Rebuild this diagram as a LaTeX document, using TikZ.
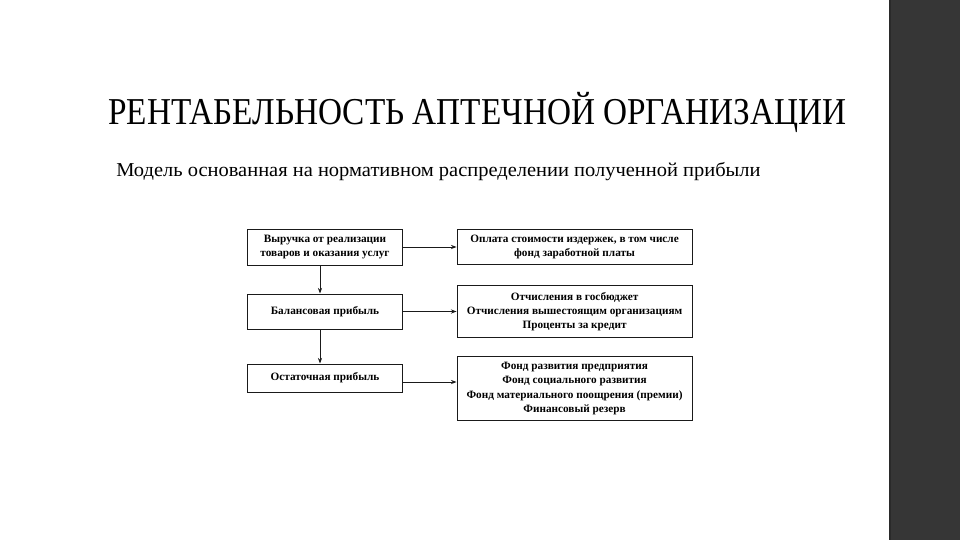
\documentclass[tikz,border=0pt]{standalone}
\usepackage{fontspec}
\setmainfont{Liberation Serif}
\usepackage{xcolor}
\usepackage{tikz}
\usetikzlibrary{arrows.meta,positioning}
\definecolor{sidebar}{HTML}{363636}
\definecolor{sideline}{HTML}{2A2A2A}
\definecolor{boxline}{HTML}{1A1A1A}
\tikzset{
  leftbox/.style={
    rectangle, draw=boxline, line width=0.7pt,
    minimum width=3.85cm, minimum height=#1,
    font=\fontsize{8}{10}\selectfont\bfseries, align=center,
    inner sep=2pt
  },
  leftbox/.default=0.9cm,
  rightbox/.style={
    rectangle, draw=boxline, line width=0.7pt,
    minimum width=5.875cm, minimum height=#1,
    font=\fontsize{8}{10}\selectfont\bfseries, align=center,
    inner sep=2pt
  },
  rightbox/.default=0.875cm,
  flowarrow/.style={
    -{Stealth[length=4pt,width=3pt]}, line width=0.6pt, color=boxline
  },
}

\begin{document}
\begin{tikzpicture}[x=0.025cm, y=-0.025cm]
  \useasboundingbox (0,0) rectangle (960,540);
  \fill[white] (0,0) rectangle (960,540);
  % dark strip on the right
  \fill[sidebar] (889,0) rectangle (960,540);
  \draw[sideline, line width=1pt] (890,0) -- (890,540);

  % headings
  \node[anchor=west, inner sep=0pt, font=\fontsize{27}{30}\selectfont] (title) at (108,112)
    {\scalebox{0.876}[1]{РЕНТАБЕЛЬНОСТЬ АПТЕЧНОЙ ОРГАНИЗАЦИИ}};
  \node[anchor=west, inner sep=0pt, font=\fontsize{14}{16}\selectfont] (subtitle) at (116,172)
    {\scalebox{1.04}[1]{Модель основанная на нормативном распределении полученной прибыли}};

  % left column
  \node[leftbox=0.9cm] (revenue) at (325,247)
    {Выручка от реализации\\товаров и оказания услуг};
  \node[leftbox=0.875cm, below=0.7cm of revenue] (balance) {Балансовая прибыль};
  \node[leftbox=0.7cm, below=0.85cm of balance] (residual) {Остаточная прибыль};

  % right column
  \node[rightbox=0.875cm, right=1.35cm of revenue] (costs)
    {Оплата стоимости издержек, в том числе\\фонд заработной платы};
  \node[rightbox=1.3cm, below=0.5cm of costs] (charges)
    {Отчисления в госбюджет\\Отчисления вышестоящим организациям\\Проценты за кредит};
  \node[rightbox=1.6cm, below=0.45cm of charges] (funds)
    {Фонд развития предприятия\\Фонд социального развития\\Фонд материального поощрения (премии)\\Финансовый резерв};

  % arrows down
  \draw[flowarrow] ([xshift=-0.125cm]revenue.south) -- ([xshift=-0.125cm]balance.north);
  \draw[flowarrow] ([xshift=-0.125cm]balance.south) -- ([xshift=-0.125cm]residual.north);

  % arrows right
  \draw[flowarrow] (revenue.east) -- (revenue.east -| costs.west);
  \draw[flowarrow] (balance.east) -- (balance.east -| charges.west);
  \draw[flowarrow] ([yshift=-0.1cm]residual.east) -- ([yshift=-0.1cm]residual.east -| funds.west);
\end{tikzpicture}
\end{document}
